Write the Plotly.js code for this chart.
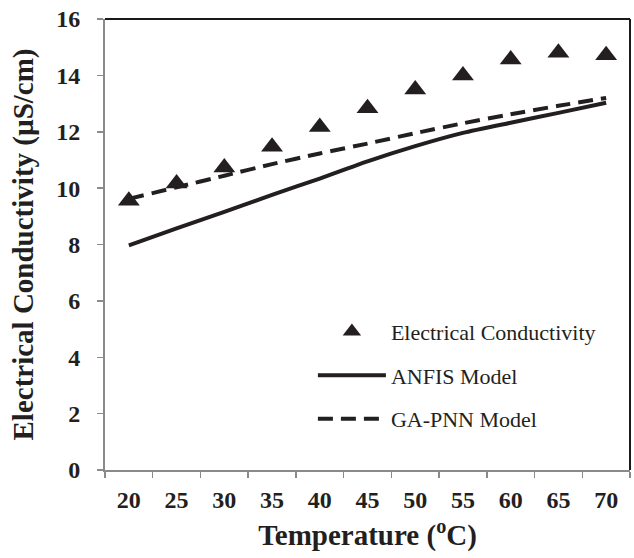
<!DOCTYPE html>
<html>
<head>
<meta charset="utf-8">
<script src="https://cdn.plot.ly/plotly-3.0.1.min.js"></script>
<style>html,body{margin:0;padding:0;background:#fff;}#chart{width:634px;height:558px;}</style>
</head>
<body>
<div id="chart"></div>
<script>
// Temperature categories (°C)
const temperatures = ['20','25','30','35','40','45','50','55','60','65','70'];
// Measured electrical conductivity (µS/cm)
const measuredEC = [9.55, 10.16, 10.73, 11.47, 12.17, 12.83, 13.5, 14.0, 14.56, 14.8, 14.71];
// ANFIS model predictions
const anfisModel = [7.97, 8.57, 9.16, 9.76, 10.34, 10.95, 11.49, 11.96, 12.32, 12.67, 13.03];
// GA-PNN model predictions
const gapnnModel = [9.62, 10.03, 10.44, 10.85, 11.23, 11.58, 11.95, 12.3, 12.62, 12.92, 13.2];
const yTicks = [0, 2, 4, 6, 8, 10, 12, 14, 16];

const serif = 'Liberation Serif, Times New Roman, serif';
const ink = '#231f20';

const traces = [
  {
    x: temperatures, y: anfisModel, name: 'ANFIS Model', type: 'scatter', mode: 'lines',
    line: {color: ink, width: 4, shape: 'spline', smoothing: 0.6},
    legendgroup: 'b', legendrank: 2
  },
  {
    x: temperatures, y: gapnnModel, name: 'GA-PNN Model', type: 'scatter', mode: 'lines',
    line: {color: ink, width: 4, dash: '15px,8px', shape: 'spline', smoothing: 0.6},
    legendgroup: 'c', legendrank: 3
  },
  {
    x: temperatures, y: measuredEC, name: 'Electrical Conductivity', type: 'scatter', mode: 'markers',
    marker: {symbol: 'triangle-up', size: 19, color: ink},
    legendgroup: 'a', legendrank: 1
  }
];

const layout = {
  width: 634, height: 558,
  margin: {l: 105, r: 4, t: 19, b: 88},
  paper_bgcolor: '#fff', plot_bgcolor: '#fff',
  showlegend: true,
  legend: {
    x: 0.396, y: 0.353, xanchor: 'left', yanchor: 'top',
    bgcolor: 'rgba(0,0,0,0)', borderwidth: 0,
    font: {family: serif, size: 22, color: ink},
    traceorder: 'grouped', tracegroupgap: 12, itemwidth: 68
  },
  xaxis: {
    type: 'category', range: [-0.5, 10.5],
    tickson: 'boundaries', ticks: 'outside', ticklen: 6, tickwidth: 1.5, tickcolor: '#8a8a8a',
    showline: true, linecolor: '#8a8a8a', linewidth: 2, showgrid: false, zeroline: false,
    ticklabelstandoff: 7,
    tickfont: {family: serif, size: 24, color: ink, weight: 'bold'},
    title: {text: 'Temperature (<sup>o</sup>C)', font: {family: serif, size: 29, color: ink, weight: 'bold'}, standoff: 13}
  },
  yaxis: {
    range: [0, 16], tickvals: yTicks, ticktext: yTicks.map(String),
    ticks: 'outside', ticklen: 6, tickwidth: 1.5, tickcolor: '#8a8a8a',
    showline: true, linecolor: '#8a8a8a', linewidth: 2, showgrid: false, zeroline: false,
    ticklabelstandoff: 12,
    tickfont: {family: serif, size: 24, color: ink, weight: 'bold'},
    title: {text: 'Electrical Conductivity (µS/cm)', font: {family: serif, size: 29, color: ink, weight: 'bold'}, standoff: 14}
  },
  shapes: [
    {type: 'line', xref: 'paper', yref: 'paper', x0: 0, x1: 1, y0: 1, y1: 1, line: {color: '#1a1a1a', width: 2}},
    {type: 'line', xref: 'paper', yref: 'paper', x0: 1, x1: 1, y0: 0, y1: 1, line: {color: '#1a1a1a', width: 2}}
  ]
};

Plotly.newPlot('chart', traces, layout, {displayModeBar: false, staticPlot: true});
</script>
</body>
</html>
